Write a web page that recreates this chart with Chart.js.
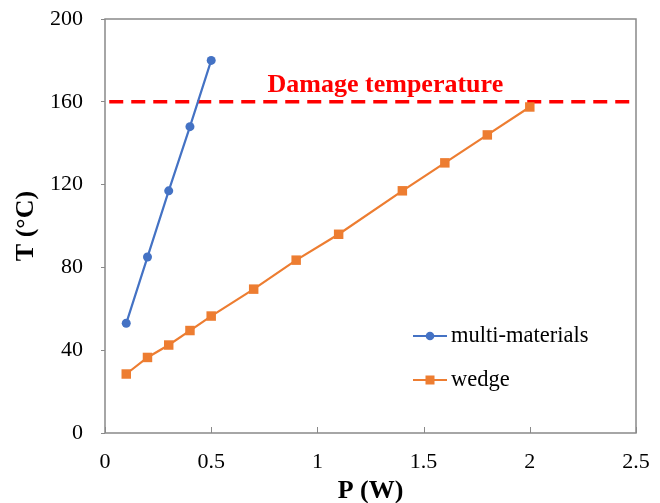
<!DOCTYPE html>
<html>
<head>
<meta charset="utf-8">
<script src="https://cdn.jsdelivr.net/npm/chart.js@4.4.1/dist/chart.umd.min.js"></script>
<style>
  html, body { margin: 0; padding: 0; background: #ffffff; }
  #wrap { width: 660px; height: 503px; }
</style>
</head>
<body>
<div id="wrap"><canvas id="c" width="660" height="503"></canvas></div>
<script>
// Measured temperature vs. applied power
const multiP = [0.1, 0.2, 0.3, 0.4, 0.5];
const multiT = [53, 85, 117, 148, 180];
const wedgeP = [0.1, 0.2, 0.3, 0.4, 0.5, 0.7, 0.9, 1.1, 1.4, 1.6, 1.8, 2.0];
const wedgeT = [28.5, 36.5, 42.5, 49.5, 56.5, 69.5, 83.5, 96, 117, 130.5, 144, 157.5];
const damageT = 160;
const damageSpan = [0.02, 2.47];
const damageLabel = 'Damage temperature';
const damageLabelP = 1.32;
const xTicks = [0, 0.5, 1, 1.5, 2, 2.5];
const yTicks = [0, 40, 80, 120, 160, 200];
const seriesNames = ['multi-materials', 'wedge'];

const BLUE = '#4472C4';
const ORANGE = '#ED7D31';
const RED = '#FF0000';
const AXIS = '#898989';
const SERIF = '"Liberation Serif", "Times New Roman", serif';

const toPoints = (xs, ys) => xs.map((x, i) => ({ x: x, y: ys[i] }));

// Box around the plot area, inward tick marks on the x axis,
// the damage-temperature caption and the in-plot legend.
const decorations = {
  id: 'decorations',
  beforeDatasetsDraw(chart) {
    const { ctx, chartArea: a, scales } = chart;
    ctx.save();
    ctx.strokeStyle = AXIS;
    ctx.lineWidth = 1.5;
    ctx.strokeRect(a.left, a.top, a.right - a.left, a.bottom - a.top);
    ctx.lineWidth = 1;
    xTicks.forEach(v => {
      const px = Math.round(scales.x.getPixelForValue(v)) + 0.5;
      ctx.beginPath();
      ctx.moveTo(px, a.bottom);
      ctx.lineTo(px, a.bottom - 6);
      ctx.stroke();
    });
    ctx.restore();
  },
  afterDatasetsDraw(chart) {
    const { ctx, scales } = chart;
    ctx.save();
    // caption above the dashed limit line
    ctx.fillStyle = RED;
    ctx.font = 'bold 26px ' + SERIF;
    ctx.textAlign = 'center';
    ctx.textBaseline = 'alphabetic';
    ctx.fillText(damageLabel, scales.x.getPixelForValue(damageLabelP), scales.y.getPixelForValue(damageT) - 10);

    // legend
    const rows = [
      { ds: chart.data.datasets[0], y: 336 },
      { ds: chart.data.datasets[1], y: 380 }
    ];
    rows.forEach(r => {
      ctx.strokeStyle = r.ds.borderColor;
      ctx.lineWidth = 2.2;
      ctx.beginPath();
      ctx.moveTo(413, r.y);
      ctx.lineTo(447, r.y);
      ctx.stroke();
      ctx.fillStyle = r.ds.backgroundColor;
      if (r.ds.pointStyle === 'rect') {
        ctx.fillRect(430 - 4.5, r.y - 4.5, 9, 9);
      } else {
        ctx.beginPath();
        ctx.arc(430, r.y, 4.3, 0, Math.PI * 2);
        ctx.fill();
      }
      ctx.fillStyle = '#000000';
      ctx.font = '22.5px ' + SERIF;
      ctx.textAlign = 'left';
      ctx.textBaseline = 'middle';
      ctx.fillText(r.ds.label, 451, r.y);
    });
    ctx.restore();
  }
};

new Chart(document.getElementById('c'), {
  type: 'scatter',
  data: {
    datasets: [
      {
        label: seriesNames[0],
        data: toPoints(multiP, multiT),
        showLine: true,
        borderColor: BLUE,
        backgroundColor: BLUE,
        borderWidth: 2.2,
        pointStyle: 'circle',
        pointRadius: 4.5,
        pointBorderWidth: 0,
        pointHoverRadius: 4.5
      },
      {
        label: seriesNames[1],
        data: toPoints(wedgeP, wedgeT),
        showLine: true,
        borderColor: ORANGE,
        backgroundColor: ORANGE,
        borderWidth: 2.2,
        pointStyle: 'rect',
        pointRadius: 6.7,
        pointBorderWidth: 0,
        pointHoverRadius: 6.7
      },
      {
        label: 'limit',
        data: damageSpan.map(x => ({ x: x, y: damageT })),
        showLine: true,
        borderColor: RED,
        backgroundColor: RED,
        borderWidth: 3.5,
        borderDash: [14, 8],
        pointRadius: 0,
        pointHoverRadius: 0,
        order: 5
      }
    ]
  },
  options: {
    responsive: false,
    animation: false,
    devicePixelRatio: 1,
    layout: { padding: { top: 19, right: 24, left: 0, bottom: 0 } },
    plugins: {
      legend: { display: false },
      tooltip: { enabled: false }
    },
    scales: {
      x: {
        type: 'linear',
        min: 0,
        max: 2.5,
        afterBuildTicks: s => { s.ticks = xTicks.map(v => ({ value: v })); },
        afterFit: s => { s.height = 70; s.paddingLeft = 0; s.paddingRight = 0; },
        border: { display: false },
        grid: { drawOnChartArea: false, drawTicks: false },
        ticks: {
          color: '#000000',
          padding: 16,
          maxRotation: 0,
          callback: v => String(v),
          font: { family: SERIF, size: 22 }
        },
        title: {
          display: true,
          text: 'P (W)',
          color: '#000000',
          padding: { top: 0, bottom: 0 },
          font: { family: SERIF, size: 26, weight: 'bold', lineHeight: 0.9 }
        }
      },
      y: {
        type: 'linear',
        min: 0,
        max: 200,
        afterBuildTicks: s => { s.ticks = yTicks.map(v => ({ value: v })); },
        afterFit: s => { s.width = 105; s.paddingTop = 0; s.paddingBottom = 0; },
        border: { display: false },
        grid: { drawOnChartArea: false, drawTicks: true, tickLength: 4, color: AXIS },
        ticks: {
          color: '#000000',
          padding: 18,
          callback: v => String(v),
          font: { family: SERIF, size: 22 }
        },
        title: {
          display: true,
          text: 'T (°C)',
          color: '#000000',
          padding: { top: 15, bottom: 0 },
          font: { family: SERIF, size: 26, weight: 'bold', lineHeight: 0.9 }
        }
      }
    }
  },
  plugins: [decorations]
});
</script>
</body>
</html>
